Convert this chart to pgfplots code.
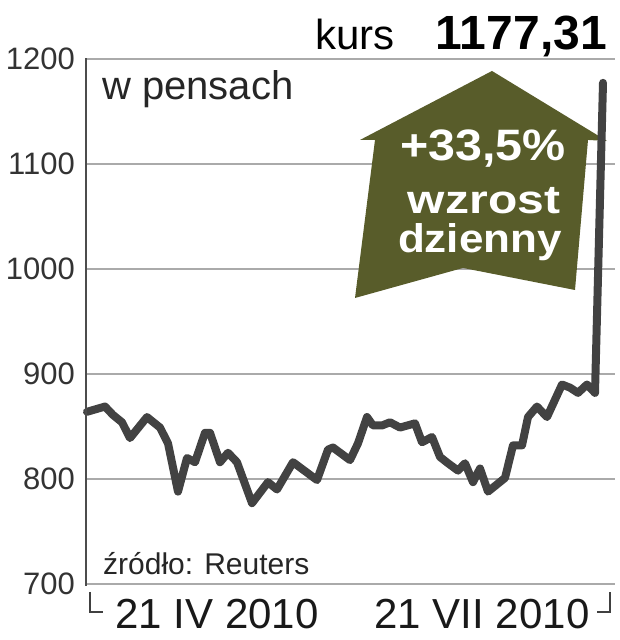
\documentclass[border=0pt]{standalone}
\usepackage{fontspec}
\setmainfont{Liberation Sans}
\usepackage{pgfplots}
\pgfplotsset{compat=1.18}

\definecolor{olive}{RGB}{88,92,42}
\definecolor{kurs}{RGB}{66,66,66}
\definecolor{siatka}{RGB}{170,170,170}

% x = day position along the axis, y = price in pence
\pgfplotstableread{
x y
1 864
19 869
27 861
36 854
44 839
61 859
74 849
82 834
92 788
101 820
109 816
119 844
124 844
134 816
142 825
151 816
166 777
182 797
191 790
207 816
231 799
242 828
247 830
264 818
272 834
281 859
287 851
296 851
304 854
314 849
329 853
336 835
346 840
354 821
362 815
372 808
379 815
387 797
394 810
402 788
419 801
427 832
436 832
442 859
451 869
461 859
476 890
484 887
492 882
501 890
509 882
517 1177.31
}\kurstable

\begin{document}
\begin{tikzpicture}
\useasboundingbox (0,0) rectangle (619pt,640pt);
\begin{axis}[
  at={(86pt,56pt)}, anchor=south west,
  scale only axis, width=529pt, height=525pt,
  xmin=0, xmax=529, ymin=700, ymax=1200,
  clip=false,
  axis line style={draw=none},
  ytick={700,800,...,1200},
  xtick={131,396},
  xticklabels={21 IV 2010, 21 VII 2010},
  major tick length=0pt,
  ymajorgrids,
  grid style={siatka, line width=1.6pt},
  /pgf/number format/assume math mode=true,
  /pgf/number format/1000 sep={},
  yticklabel style={font=\fontsize{31}{31}\selectfont, text=black!80,
    anchor=east, inner sep=0pt, xshift=-11pt},
  xticklabel style={font=\fontsize{42}{42}\selectfont, text=black!90,
    anchor=base, inner sep=0pt, yshift=-44pt},
]
% the arrow sits above the grid and below the price line
\fill[olive] (axis cs:274,1122.9) -- (axis cs:406,1188.6) -- (axis cs:521,1121.9)
  -- (axis cs:502,1122.9) -- (axis cs:489,980) -- (axis cs:377,1001)
  -- (axis cs:269,972.4) -- (axis cs:289,1122.9) -- cycle;
\addplot[kurs, line width=8pt, line join=round, line cap=round] table {\kurstable};
\draw[black!70, line width=1.6pt] (rel axis cs:0,-0.003) -- (rel axis cs:0,1.002);
\end{axis}

% bracket under the dates
\draw[black!75, line width=1.5pt] (90pt,48pt) -- (90pt,28pt) -- (103pt,28pt);
\draw[black!75, line width=1.5pt] (597pt,28pt) -- (610pt,28pt) -- (610pt,48pt);

\node[anchor=base west, inner sep=0pt, font=\fontsize{40}{40}\selectfont, text=black!85]
  at (102pt,540pt) {w pensach};
\node[anchor=base west, inner sep=0pt, font=\fontsize{30}{30}\selectfont, text=black!85]
  at (103pt,65pt) {źródło: Reuters};
\node[anchor=base west, inner sep=0pt, font=\fontsize{42}{42}\selectfont]
  at (315pt,590pt) {kurs};
\node[anchor=base east, inner sep=0pt, font=\fontsize{48}{48}\selectfont\bfseries]
  at (607pt,590pt) {1177,31};

\node[anchor=base, inner sep=0pt, text=white, xscale=1.1, font=\fontsize{44}{44}\selectfont\bfseries]
  at (483pt,479pt) {+33,5\%};
\node[anchor=base, inner sep=0pt, text=white, xscale=1.2, font=\fontsize{40}{40}\selectfont\bfseries]
  at (484pt,426pt) {wzrost};
\node[anchor=base, inner sep=0pt, text=white, xscale=1.1, font=\fontsize{40}{40}\selectfont\bfseries]
  at (480pt,387pt) {dzienny};
\end{tikzpicture}
\end{document}
